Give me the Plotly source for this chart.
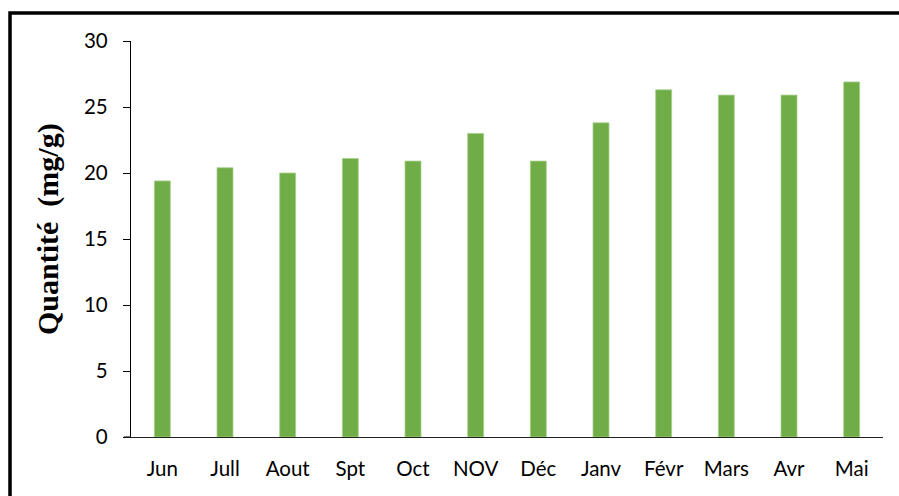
import plotly.graph_objects as go

months = ["Jun", "Jull", "Aout", "Spt", "Oct", "NOV", "Déc", "Janv", "Févr", "Mars", "Avr", "Mai"]
quantite = [19.4, 20.4, 20.0, 21.1, 20.9, 23.0, 20.9, 23.8, 26.3, 25.9, 25.9, 26.9]
y_ticks = [0, 5, 10, 15, 20, 25, 30]
y_title = "<b>Quantité  (mg/g)</b>"

W, H = 899, 496
ml, mr, mt, mb = 131, 16, 41, 59
pw, ph = W - ml - mr, H - mt - mb

def px_to_paper_x(x):
    return (x - ml) / pw

def px_to_paper_y(y):
    return (H - mb - y) / ph

fig = go.Figure(go.Bar(
    x=months, y=quantite,
    marker=dict(color="#70AD47", line=dict(color="#A9D18E", width=0.8)),
    width=0.255,
))

fig.update_layout(
    width=W, height=H,
    margin=dict(l=ml, r=mr, t=mt, b=mb),
    paper_bgcolor="white", plot_bgcolor="white",
    showlegend=False,
    bargap=0.745,
    font=dict(family="Lato, 'Open Sans', sans-serif", size=20, color="black"),
    xaxis=dict(
        showline=True, linecolor="#222", linewidth=1.2,
        ticks="", showgrid=False, tickfont=dict(size=20.5),
        ticklabelstandoff=13,
    ),
    yaxis=dict(
        range=[0, 30], tickvals=y_ticks, showgrid=False, zeroline=False,
        showline=True, linecolor="black", linewidth=1.3,
        ticks="outside", ticklen=7, tickcolor="black", tickwidth=1.3,
        tickfont=dict(size=20.5), ticklabelstandoff=11,
    ),
    annotations=[
        dict(text=y_title, textangle=-90, showarrow=False,
             xref="paper", yref="paper",
             x=px_to_paper_x(48), y=px_to_paper_y(229),
             xanchor="center", yanchor="middle",
             font=dict(family="'Liberation Serif', 'Times New Roman', serif", size=30, color="black")),
    ],
    shapes=[
        # outer frame (extends beyond the visible page on right and bottom)
        dict(type="rect", xref="paper", yref="paper",
             x0=px_to_paper_x(10), x1=px_to_paper_x(910),
             y0=px_to_paper_y(510), y1=px_to_paper_y(13),
             line=dict(color="black", width=3.5), fillcolor="rgba(0,0,0,0)", layer="above"),
        # small extension of x-axis line to the left (tick at 0)
        dict(type="line", xref="paper", yref="paper",
             x0=px_to_paper_x(124), x1=0, y0=0, y1=0,
             line=dict(color="#222", width=1.2)),
    ],
)

fig.write_html("out.html", config={"displayModeBar": False},
               post_script="document.body.style.margin='0';document.body.style.overflow='hidden';")
